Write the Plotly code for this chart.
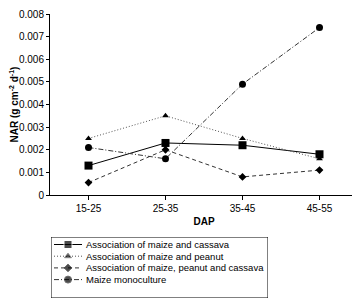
import plotly.graph_objects as go

categories = ["15-25", "25-35", "35-45", "45-55"]
series_names = [
    "Association of maize and cassava",
    "Association of maize and peanut",
    "Association of maize, peanut and cassava",
    "Maize monoculture",
]
cassava = [0.0013, 0.0023, 0.0022, 0.0018]
peanut = [0.0025, 0.0035, 0.0025, 0.0016]
peanut_cassava = [0.00055, 0.0020, 0.0008, 0.0011]
monoculture = [0.0021, 0.0016, 0.0049, 0.0074]
y_ticks = [0, 0.001, 0.002, 0.003, 0.004, 0.005, 0.006, 0.007, 0.008]
y_ticktext = ["0", "0.001", "0.002", "0.003", "0.004", "0.005", "0.006", "0.007", "0.008"]

FONT = "Liberation Sans Narrow, Arial Narrow, Liberation Sans, Arial, sans-serif"

styles = [
    dict(dash="solid", color="#000000", symbol="square", size=8),
    dict(dash="1px,2px", color="#555555", symbol="triangle-up", size=6),
    dict(dash="4px,3px", color="#333333", symbol="diamond", size=6),
    dict(dash="5px,2px,1px,2px", color="#333333", symbol="circle", size=7),
]
data = [cassava, peanut, peanut_cassava, monoculture]

# page body has an 8px margin; lay out in screen coordinates, then offset
OFF = 8
W, H = 360 - OFF, 302 - OFF
plot_left, plot_right, plot_top = 50, 358, 14
main_bottom = 195
leg_top, leg_bottom = 237, 298
leg_left, leg_right = 51, 268

ML = plot_left - OFF
MR = W - (plot_right - OFF)
MT = plot_top - OFF
MB = H - (leg_bottom - OFF)
plot_h = H - MT - MB
plot_w = W - ML - MR

fig = go.Figure()
for name, vals, st in zip(series_names, data, styles):
    fig.add_trace(go.Scatter(
        x=categories, y=vals, name=name, mode="lines+markers",
        line=dict(color=st["color"], width=1, dash=st["dash"]),
        marker=dict(symbol=st["symbol"], size=st["size"], color="#000000"),
        xaxis="x", yaxis="y", showlegend=False,
    ))

# custom legend on a hidden axis pair (pixel-like units)
leg_w = leg_right - leg_left
leg_h = leg_bottom - leg_top
row_y = [leg_h - 7.5, leg_h - 19.2, leg_h - 30.9, leg_h - 42.6]
for name, st, ry in zip(series_names, styles, row_y):
    fig.add_trace(go.Scatter(
        x=[3, 17, 31], y=[ry, ry, ry], mode="lines+markers",
        line=dict(color=st["color"], width=1, dash=st["dash"]),
        marker=dict(symbol=st["symbol"], size=[0, st["size"], 0], color="#000000"),
        xaxis="x2", yaxis="y2", showlegend=False, hoverinfo="skip",
    ))
    fig.add_annotation(
        x=33, y=ry, xref="x2", yref="y2", text=name, showarrow=False,
        xanchor="left", yanchor="middle", font=dict(size=9.5, family=FONT),
    )

fig.add_shape(type="rect", xref="x2", yref="y2", x0=0, x1=leg_w, y0=0, y1=leg_h,
              line=dict(color="#000000", width=1), fillcolor="rgba(0,0,0,0)")

fig.update_layout(
    width=W, height=H,
    margin=dict(l=ML, r=MR, t=MT, b=MB, autoexpand=False),
    paper_bgcolor="white", plot_bgcolor="white",
    font=dict(family=FONT, size=10, color="#000000"),
    showlegend=False,
    xaxis=dict(
        type="category", range=[-0.5, 3.5], domain=[0, 1],
        showline=True, linecolor="#000000", linewidth=1,
        ticks="outside", ticklen=4, tickcolor="#000000",
        showgrid=False, zeroline=False, anchor="y",
        title=dict(text="<b>DAP</b>", font=dict(size=10), standoff=4),
    ),
    yaxis=dict(
        range=[0, 0.008], tickvals=y_ticks, ticktext=y_ticktext,
        domain=[(leg_bottom - main_bottom) / plot_h, 1],
        showline=True, linecolor="#000000", linewidth=1,
        ticks="outside", ticklen=3, tickcolor="#000000",
        showgrid=False, zeroline=False, anchor="x",
        title=dict(text="<b>NAR (g cm<sup>-2</sup> d<sup>-1</sup>)</b>", font=dict(size=10), standoff=8),
    ),
    xaxis2=dict(
        domain=[(leg_left - plot_left) / plot_w, (leg_right - plot_left) / plot_w],
        range=[0, leg_w], visible=False, anchor="y2", fixedrange=True,
    ),
    yaxis2=dict(
        domain=[0, leg_h / plot_h],
        range=[0, leg_h], visible=False, anchor="x2", fixedrange=True,
    ),
)

fig.write_html("out.html")
